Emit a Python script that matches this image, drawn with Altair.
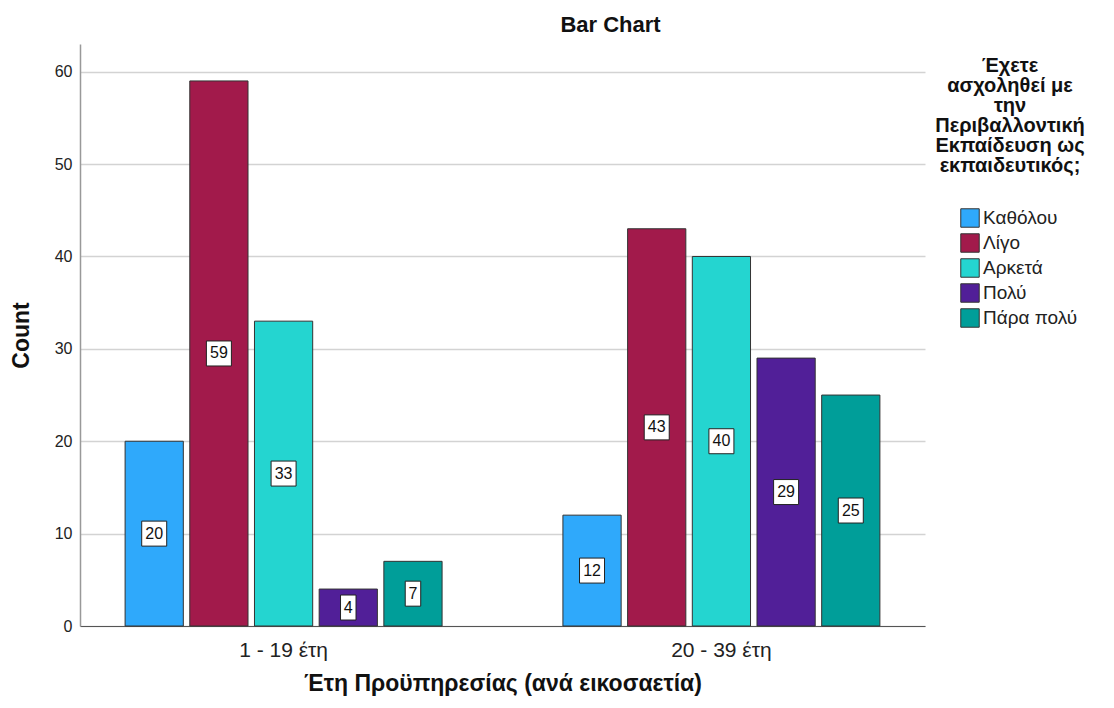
import altair as alt
import pandas as pd

groups = ["1 - 19 έτη", "20 - 39 έτη"]
levels = ["Καθόλου", "Λίγο", "Αρκετά", "Πολύ", "Πάρα πολύ"]
counts_g1 = [20, 59, 33, 4, 7]
counts_g2 = [12, 43, 40, 29, 25]
colors = ["#2FA9FB", "#A21A4B", "#24D5D0", "#511F98", "#009E99"]

rows = []
for g, vals in zip(groups, [counts_g1, counts_g2]):
    for lev, v in zip(levels, vals):
        rows.append({"group": g, "level": lev, "count": v, "half": v / 2,
                     "label": str(v), "digits": str(len(str(v)))})
df = pd.DataFrame(rows)

FONT = "Liberation Sans"

x_enc = alt.X("group:N", sort=groups,
              scale=alt.Scale(paddingInner=0.276, paddingOuter=0.103),
              axis=alt.Axis(title="Έτη Προϋπηρεσίας (ανά εικοσαετία)", labelAngle=0,
                            labelFontSize=21, labelFont=FONT, labelColor="#222",
                            labelPadding=13, ticks=False, domainColor="#555",
                            domainWidth=1.2, titleFont=FONT, titleFontSize=23,
                            titleFontWeight="bold", titlePadding=12, titleColor="#111"))
xoff = alt.XOffset("level:N", sort=levels, scale=alt.Scale(paddingInner=0.1, paddingOuter=0))

y_scale = alt.Scale(domain=[0, 63], nice=False)

bars = alt.Chart(df).mark_bar(stroke="#333", strokeWidth=1).encode(
    x=x_enc,
    xOffset=xoff,
    y=alt.Y("count:Q", scale=y_scale,
            axis=alt.Axis(title="Count", values=[0, 10, 20, 30, 40, 50, 60],
                          labelFontSize=16, labelFont=FONT, labelColor="#222",
                          labelPadding=8, ticks=False, grid=True, gridColor="#d3d3d3",
                          gridWidth=1.5, domainColor="#999", domainWidth=1.5,
                          titleFont=FONT, titleFontSize=23, titleFontWeight="bold",
                          titlePadding=21, titleColor="#111")),
    color=alt.Color("level:N", sort=levels,
                    scale=alt.Scale(domain=levels, range=colors),
                    legend=alt.Legend(
                        title=["Έχετε", "ασχοληθεί με", "την", "Περιβαλλοντική",
                               "Εκπαίδευση ως", "εκπαιδευτικός;"],
                        orient="none", legendX=855, legendY=12,
                        titleFont=FONT, titleFontSize=20, titleFontWeight="bold",
                        titleAlign="center", titleAnchor="middle", titleLineHeight=20,
                        titleColor="#111", titlePadding=32,
                        labelFont=FONT, labelFontSize=19, labelColor="#222",
                        symbolType="square", symbolSize=340, symbolStrokeColor="#333",
                        symbolStrokeWidth=1, symbolOpacity=1, symbolOffset=17,
                        rowPadding=1, labelOffset=3)),
)

box_paths = ["M-0.62,-1H0.62V1H-0.62Z", "M-1,-1H1V1H-1Z"]
boxes = alt.Chart(df).mark_point(filled=True, fill="white", stroke="#222",
                                 strokeWidth=1, opacity=1, size=625).encode(
    x=alt.X("group:N", sort=groups),
    xOffset=xoff,
    y=alt.Y("half:Q", scale=y_scale),
    shape=alt.Shape("digits:N", scale=alt.Scale(domain=["1", "2"], range=box_paths),
                    legend=None),
)

texts = alt.Chart(df).mark_text(font=FONT, fontSize=16, color="#111").encode(
    x=alt.X("group:N", sort=groups),
    xOffset=xoff,
    y=alt.Y("half:Q", scale=y_scale),
    text="label:N",
)

chart = alt.layer(bars, boxes, texts).properties(
    width=845, height=582,
    title=alt.TitleParams("Bar Chart", font=FONT, fontSize=22, fontWeight="bold",
                          color="#111", anchor="middle", dx=108, offset=7),
    autosize=alt.AutoSizeParams(type="none"),
    padding={"left": 72, "top": 36, "right": 181, "bottom": 74},
).configure_view(stroke=None)

chart.save("out.html", embed_options={"renderer": "svg", "actions": False})
